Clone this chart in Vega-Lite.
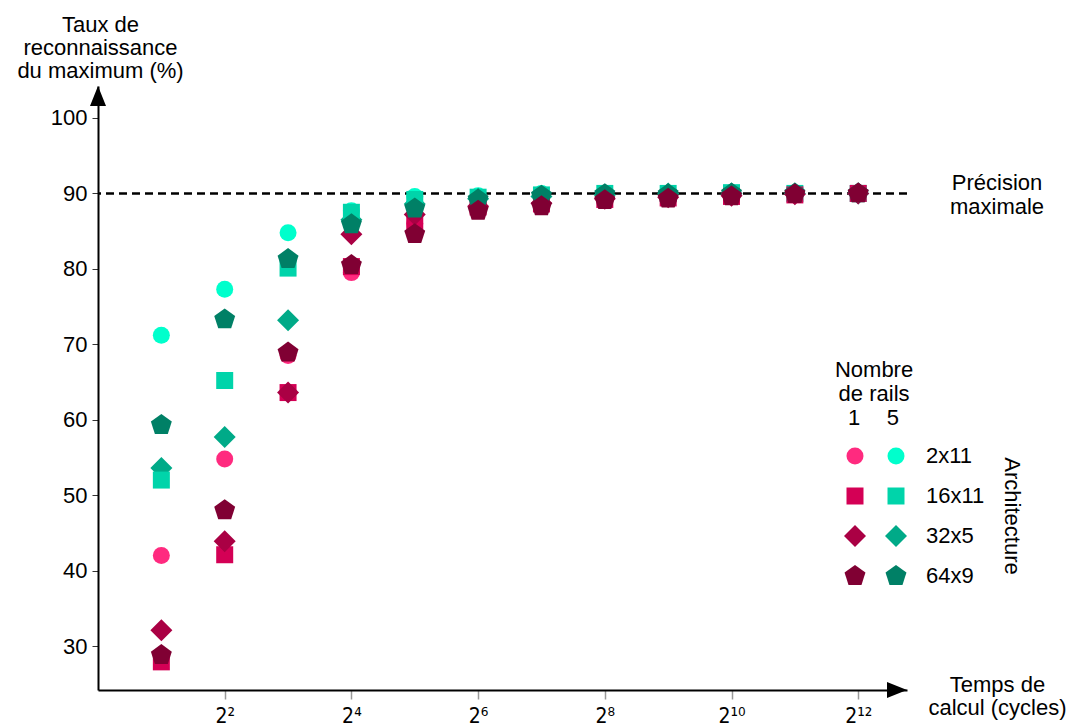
{
  "$schema": "https://vega.github.io/schema/vega-lite/v6.json",
  "width": 809,
  "height": 604,
  "autosize": {"type": "none"},
  "padding": {"left": 98, "top": 86, "right": 166, "bottom": 38},
  "background": "white",
  "config": {
    "view": {"stroke": null},
    "font": "Liberation Sans",
    "text": {"font": "Liberation Sans", "fontSize": 22, "color": "black"}
  },
  "datasets": {
    "one": [{"k": 1}],
    "points": [
      {"series": "2x11 / 5", "t": 2, "v": 71.2}, {"series": "2x11 / 5", "t": 4, "v": 77.3}, {"series": "2x11 / 5", "t": 8, "v": 84.8}, {"series": "2x11 / 5", "t": 16, "v": 87.7}, {"series": "2x11 / 5", "t": 32, "v": 89.6}, {"series": "2x11 / 5", "t": 64, "v": 89.7}, {"series": "2x11 / 5", "t": 128, "v": 90.0}, {"series": "2x11 / 5", "t": 256, "v": 90.0}, {"series": "2x11 / 5", "t": 512, "v": 90.0}, {"series": "2x11 / 5", "t": 1024, "v": 90.1}, {"series": "2x11 / 5", "t": 2048, "v": 90.0}, {"series": "2x11 / 5", "t": 4096, "v": 90.0},
      {"series": "32x5 / 5", "t": 2, "v": 53.6}, {"series": "32x5 / 5", "t": 4, "v": 57.7}, {"series": "32x5 / 5", "t": 8, "v": 73.2}, {"series": "32x5 / 5", "t": 16, "v": 86.5}, {"series": "32x5 / 5", "t": 32, "v": 88.6}, {"series": "32x5 / 5", "t": 64, "v": 89.3}, {"series": "32x5 / 5", "t": 128, "v": 89.6}, {"series": "32x5 / 5", "t": 256, "v": 89.8}, {"series": "32x5 / 5", "t": 512, "v": 90.0}, {"series": "32x5 / 5", "t": 1024, "v": 90.0}, {"series": "32x5 / 5", "t": 2048, "v": 90.0}, {"series": "32x5 / 5", "t": 4096, "v": 90.0},
      {"series": "16x11 / 5", "t": 2, "v": 52.0}, {"series": "16x11 / 5", "t": 4, "v": 65.2}, {"series": "16x11 / 5", "t": 8, "v": 80.1}, {"series": "16x11 / 5", "t": 16, "v": 87.5}, {"series": "16x11 / 5", "t": 32, "v": 89.2}, {"series": "16x11 / 5", "t": 64, "v": 89.5}, {"series": "16x11 / 5", "t": 128, "v": 89.8}, {"series": "16x11 / 5", "t": 256, "v": 90.0}, {"series": "16x11 / 5", "t": 512, "v": 90.0}, {"series": "16x11 / 5", "t": 1024, "v": 90.1}, {"series": "16x11 / 5", "t": 2048, "v": 90.0}, {"series": "16x11 / 5", "t": 4096, "v": 90.0},
      {"series": "2x11 / 1", "t": 2, "v": 42.0}, {"series": "2x11 / 1", "t": 4, "v": 54.8}, {"series": "2x11 / 1", "t": 8, "v": 68.5}, {"series": "2x11 / 1", "t": 16, "v": 79.5}, {"series": "2x11 / 1", "t": 32, "v": 86.0}, {"series": "2x11 / 1", "t": 64, "v": 88.0}, {"series": "2x11 / 1", "t": 128, "v": 88.8}, {"series": "2x11 / 1", "t": 256, "v": 89.3}, {"series": "2x11 / 1", "t": 512, "v": 89.5}, {"series": "2x11 / 1", "t": 1024, "v": 89.7}, {"series": "2x11 / 1", "t": 2048, "v": 89.9}, {"series": "2x11 / 1", "t": 4096, "v": 90.0},
      {"series": "16x11 / 1", "t": 2, "v": 27.9}, {"series": "16x11 / 1", "t": 4, "v": 42.1}, {"series": "16x11 / 1", "t": 8, "v": 63.6}, {"series": "16x11 / 1", "t": 16, "v": 80.3}, {"series": "16x11 / 1", "t": 32, "v": 86.3}, {"series": "16x11 / 1", "t": 64, "v": 88.2}, {"series": "16x11 / 1", "t": 128, "v": 88.6}, {"series": "16x11 / 1", "t": 256, "v": 89.2}, {"series": "16x11 / 1", "t": 512, "v": 89.4}, {"series": "16x11 / 1", "t": 1024, "v": 89.6}, {"series": "16x11 / 1", "t": 2048, "v": 89.8}, {"series": "16x11 / 1", "t": 4096, "v": 90.0},
      {"series": "32x5 / 1", "t": 2, "v": 32.1}, {"series": "32x5 / 1", "t": 4, "v": 43.9}, {"series": "32x5 / 1", "t": 8, "v": 63.6}, {"series": "32x5 / 1", "t": 16, "v": 84.6}, {"series": "32x5 / 1", "t": 32, "v": 87.2}, {"series": "32x5 / 1", "t": 64, "v": 88.3}, {"series": "32x5 / 1", "t": 128, "v": 88.7}, {"series": "32x5 / 1", "t": 256, "v": 89.3}, {"series": "32x5 / 1", "t": 512, "v": 89.5}, {"series": "32x5 / 1", "t": 1024, "v": 89.7}, {"series": "32x5 / 1", "t": 2048, "v": 89.9}, {"series": "32x5 / 1", "t": 4096, "v": 90.0},
      {"series": "64x9 / 5", "t": 2, "v": 59.3}, {"series": "64x9 / 5", "t": 4, "v": 73.3}, {"series": "64x9 / 5", "t": 8, "v": 81.3}, {"series": "64x9 / 5", "t": 16, "v": 85.9}, {"series": "64x9 / 5", "t": 32, "v": 88.0}, {"series": "64x9 / 5", "t": 64, "v": 89.2}, {"series": "64x9 / 5", "t": 128, "v": 89.7}, {"series": "64x9 / 5", "t": 256, "v": 89.9}, {"series": "64x9 / 5", "t": 512, "v": 89.9}, {"series": "64x9 / 5", "t": 1024, "v": 90.0}, {"series": "64x9 / 5", "t": 2048, "v": 90.0}, {"series": "64x9 / 5", "t": 4096, "v": 90.0},
      {"series": "64x9 / 1", "t": 2, "v": 28.8}, {"series": "64x9 / 1", "t": 4, "v": 48.0}, {"series": "64x9 / 1", "t": 8, "v": 68.9}, {"series": "64x9 / 1", "t": 16, "v": 80.5}, {"series": "64x9 / 1", "t": 32, "v": 84.6}, {"series": "64x9 / 1", "t": 64, "v": 87.7}, {"series": "64x9 / 1", "t": 128, "v": 88.3}, {"series": "64x9 / 1", "t": 256, "v": 89.1}, {"series": "64x9 / 1", "t": 512, "v": 89.3}, {"series": "64x9 / 1", "t": 1024, "v": 89.6}, {"series": "64x9 / 1", "t": 2048, "v": 89.9}, {"series": "64x9 / 1", "t": 4096, "v": 90.0}
    ]
  },
  "layer": [
    {
      "data": {"name": "one"},
      "mark": {"type": "rule", "color": "black", "strokeWidth": 2.5, "strokeDash": [8, 5]},
      "encoding": {"y": {"datum": 90, "type": "quantitative"}}
    },
    {
      "data": {"name": "points"},
      "mark": {"type": "point", "filled": true, "opacity": 1, "strokeWidth": 0},
      "encoding": {
        "x": {
          "field": "t", "type": "quantitative",
          "scale": {"type": "log", "base": 2, "domain": [1, 6985], "nice": false},
          "axis": {
            "values": [4, 16, 64, 256, 1024, 4096],
            "labelExpr": "datum.value == 4 ? '2²' : datum.value == 16 ? '2⁴' : datum.value == 64 ? '2⁶' : datum.value == 256 ? '2⁸' : datum.value == 1024 ? '2¹⁰' : '2¹²'",
            "grid": false,
            "domainColor": "black", "domainWidth": 2,
            "tickColor": "#999999", "tickSize": 9, "tickWidth": 1.5,
            "labelFont": "DejaVu Sans Condensed", "labelFontSize": 21, "labelColor": "black", "labelPadding": 6,
            "title": ["Temps de", "calcul (cycles)"],
            "titleFont": "Liberation Sans", "titleFontSize": 22, "titleFontWeight": "normal", "titleColor": "black",
            "titleAlign": "center", "titleBaseline": "alphabetic", "titleLineHeight": 23,
            "titleX": 899, "titleY": 1, "titleAngle": 0
          }
        },
        "y": {
          "field": "v", "type": "quantitative",
          "scale": {"domain": [24.17, 104.24], "nice": false, "zero": false},
          "axis": {
            "values": [30, 40, 50, 60, 70, 80, 90, 100],
            "grid": false,
            "domainColor": "black", "domainWidth": 2,
            "tickColor": "#333333", "tickSize": 6, "tickWidth": 1,
            "labelFont": "Liberation Sans", "labelFontSize": 22, "labelColor": "black", "labelPadding": 5,
            "title": ["Taux de", "reconnaissance", "du maximum (%)"],
            "titleFont": "Liberation Sans", "titleFontSize": 22, "titleFontWeight": "normal", "titleColor": "black",
            "titleAngle": 0, "titleAlign": "center", "titleBaseline": "alphabetic", "titleLineHeight": 23,
            "titleX": 2, "titleY": -55
          }
        },
        "color": {
          "field": "series", "type": "nominal",
          "scale": {
            "domain": ["2x11 / 1", "2x11 / 5", "16x11 / 1", "16x11 / 5", "32x5 / 1", "32x5 / 5", "64x9 / 1", "64x9 / 5"],
            "range": ["#ff2a7f", "#00ffcc", "#d40055", "#00d4aa", "#aa0044", "#00aa88", "#800033", "#008066"]
          },
          "legend": {
            "orient": "none", "legendX": 746, "legendY": 359,
            "direction": "horizontal",
            "columns": 2, "padding": 0,
            "rowPadding": 18, "columnPadding": -2,
            "labelOffset": 19,
            "labelExpr": "slice(datum.label, -1) == '5' ? split(datum.label, ' / ')[0] : ''",
            "labelFont": "Liberation Sans", "labelFontSize": 22, "labelColor": "black",
            "title": "Architecture", "titleOrient": "right", "titleLimit": 400,
            "titleAnchor": "middle", "titleAlign": "center", "titleBaseline": "middle",
            "titleFont": "Liberation Sans", "titleFontSize": 22, "titleFontWeight": "normal", "titleColor": "black",
            "titlePadding": 28,
            "encode": {"title": {"update": {"angle": {"value": 90}}}},
            "symbolOpacity": 1, "symbolStrokeWidth": 0
          }
        },
        "shape": {
          "field": "series", "type": "nominal",
          "scale": {
            "domain": ["2x11 / 1", "2x11 / 5", "16x11 / 1", "16x11 / 5", "32x5 / 1", "32x5 / 5", "64x9 / 1", "64x9 / 5"],
            "range": ["circle", "circle", "square", "square", "M-1,0 L0,-1 L1,0 L0,1 Z", "M-1,0 L0,-1 L1,0 L0,1 Z", "M0,-1 L0.951,-0.309 L0.588,0.809 L-0.588,0.809 L-0.951,-0.309 Z", "M0,-1 L0.951,-0.309 L0.588,0.809 L-0.588,0.809 L-0.951,-0.309 Z"]
          }
        },
        "size": {
          "field": "series", "type": "nominal",
          "scale": {
            "type": "ordinal",
            "domain": ["2x11 / 1", "2x11 / 5", "16x11 / 1", "16x11 / 5", "32x5 / 1", "32x5 / 5", "64x9 / 1", "64x9 / 5"],
            "range": [289, 289, 289, 289, 484, 484, 484, 484]
          }
        }
      }
    },
    {
      "data": {"name": "one"},
      "mark": {"type": "point", "filled": true, "opacity": 1, "color": "black", "strokeWidth": 0, "size": 1600, "shape": "M0,0 L0.4,1 L-0.4,1 Z"},
      "encoding": {"x": {"datum": 1, "type": "quantitative"}, "y": {"datum": 104.24, "type": "quantitative"}}
    },
    {
      "data": {"name": "one"},
      "mark": {"type": "point", "filled": true, "opacity": 1, "color": "black", "strokeWidth": 0, "size": 1600, "shape": "M0,0 L-1,-0.4 L-1,0.4 Z"},
      "encoding": {"x": {"datum": 6985, "type": "quantitative"}, "y": {"datum": 24.17, "type": "quantitative"}}
    },
    {
      "data": {"name": "one"},
      "mark": {"type": "text", "lineBreak": "\n", "align": "center", "baseline": "middle", "fontSize": 22, "lineHeight": 24},
      "encoding": {"x": {"datum": 18700, "type": "quantitative"}, "y": {"datum": 91.33, "type": "quantitative"}, "text": {"value": "Précision\nmaximale"}}
    },
    {
      "data": {"name": "one"},
      "mark": {"type": "text", "lineBreak": "\n", "align": "center", "baseline": "middle", "fontSize": 22, "lineHeight": 24},
      "encoding": {"x": {"datum": 4871, "type": "quantitative"}, "y": {"datum": 66.53, "type": "quantitative"}, "text": {"value": "Nombre\nde rails"}}
    },
    {
      "data": {"name": "one"},
      "mark": {"type": "text", "align": "center", "baseline": "middle", "fontSize": 22},
      "encoding": {"x": {"datum": 3912, "type": "quantitative"}, "y": {"datum": 60.17, "type": "quantitative"}, "text": {"value": "1"}}
    },
    {
      "data": {"name": "one"},
      "mark": {"type": "text", "align": "center", "baseline": "middle", "fontSize": 22},
      "encoding": {"x": {"datum": 5992, "type": "quantitative"}, "y": {"datum": 60.17, "type": "quantitative"}, "text": {"value": "5"}}
    }
  ]
}
